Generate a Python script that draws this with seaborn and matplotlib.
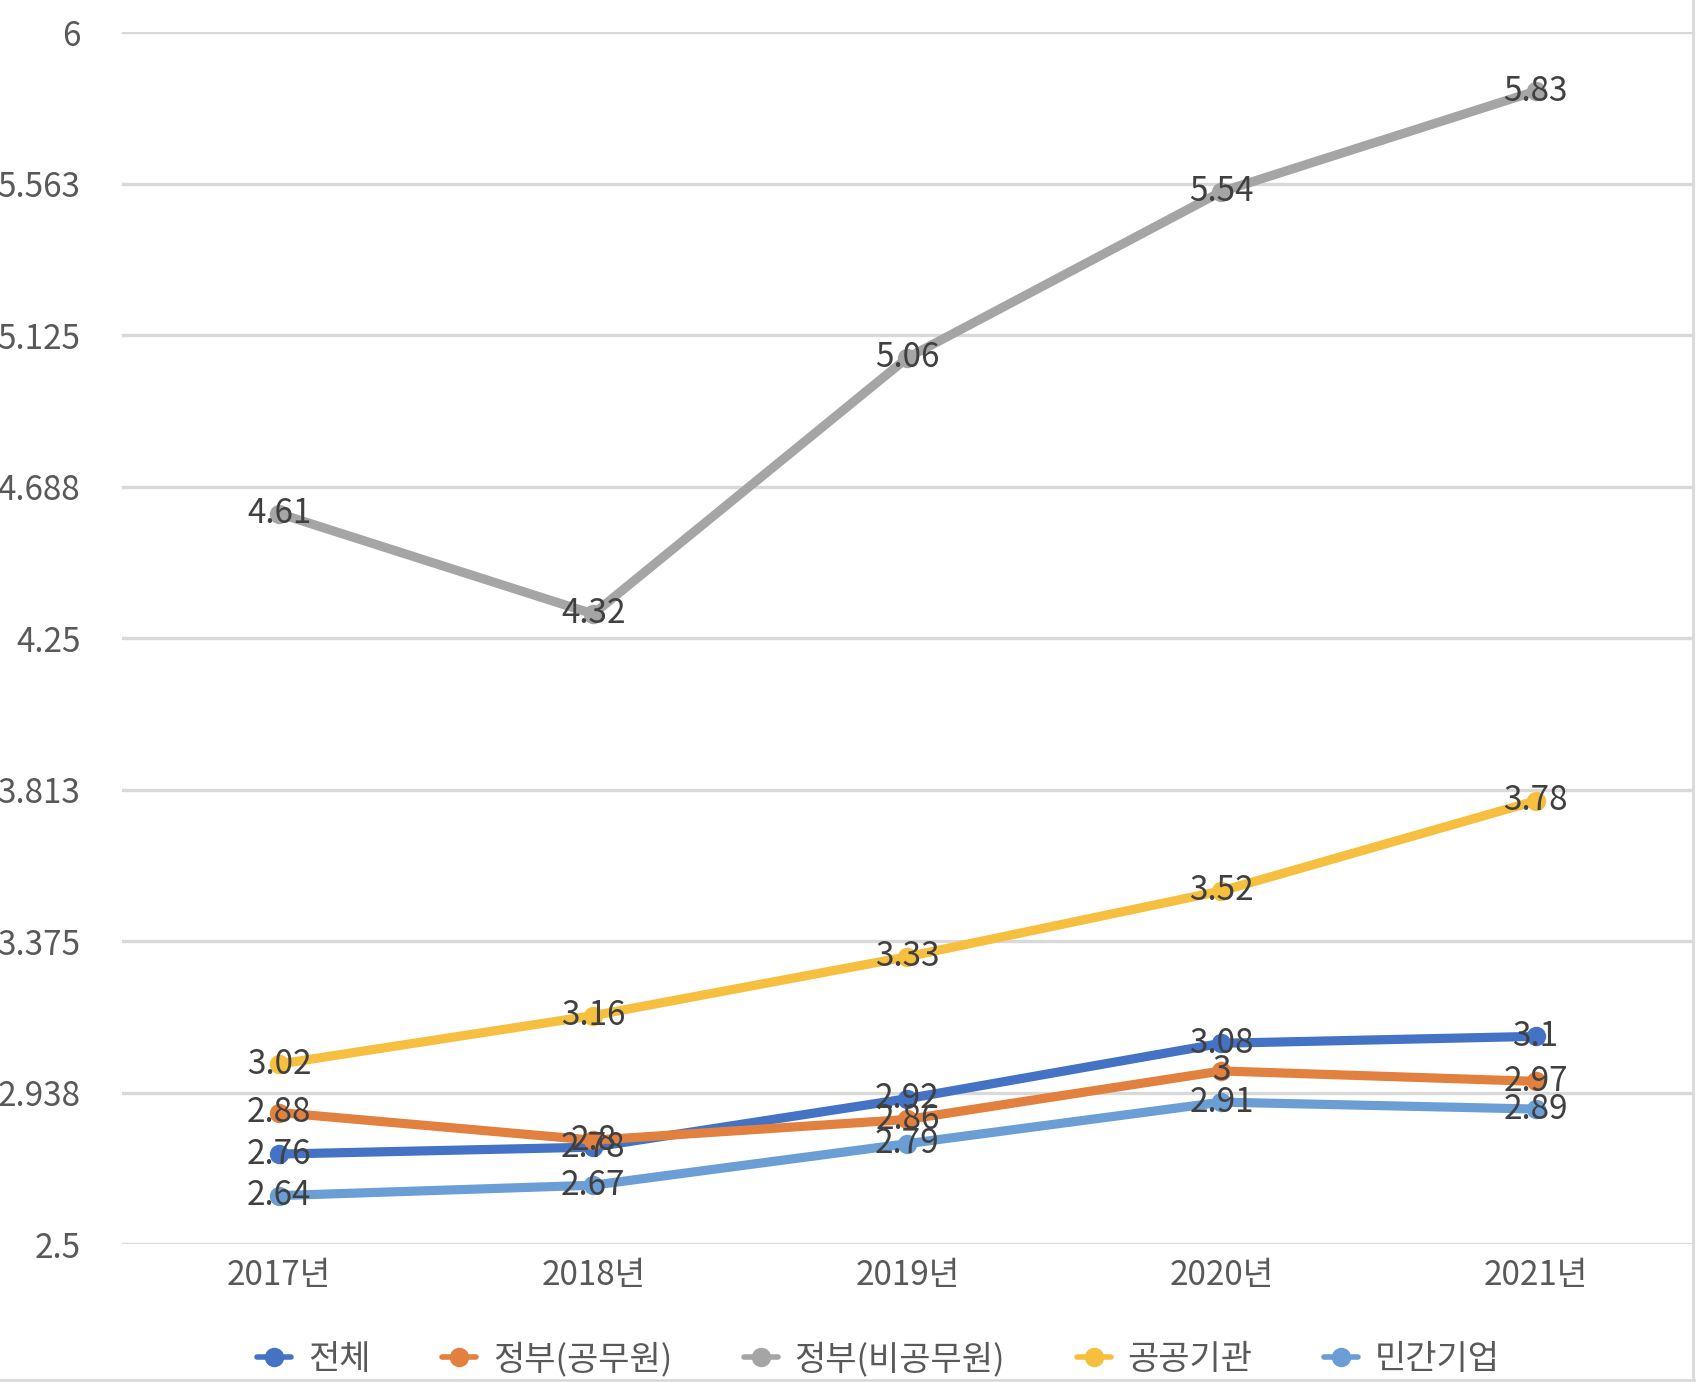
import pandas as pd
import seaborn as sns
import matplotlib.pyplot as plt
from matplotlib.lines import Line2D

years = ["2017년", "2018년", "2019년", "2020년", "2021년"]
series_names = ["전체", "정부(공무원)", "정부(비공무원)", "공공기관", "민간기업"]
total = [2.76, 2.78, 2.92, 3.08, 3.1]
gov_official = [2.88, 2.8, 2.86, 3, 2.97]
gov_non_official = [4.61, 4.32, 5.06, 5.54, 5.83]
public_inst = [3.02, 3.16, 3.33, 3.52, 3.78]
private_corp = [2.64, 2.67, 2.79, 2.91, 2.89]
y_ticks = [2.5, 2.9375, 3.375, 3.8125, 4.25, 4.6875, 5.125, 5.5625, 6]
y_tick_labels = ["2.5", "2.938", "3.375", "3.813", "4.25", "4.688", "5.125", "5.563", "6"]

colors = ["#4472C4", "#E2803F", "#A5A5A5", "#F6BF3F", "#6A9ED4"]
palette = dict(zip(series_names, colors))

all_values = [total, gov_official, gov_non_official, public_inst, private_corp]
rows = []
for name, vals in zip(series_names, all_values):
    for i, (yr, v) in enumerate(zip(years, vals)):
        rows.append({"pos": i, "year": yr, "series": name, "value": v})
df = pd.DataFrame(rows)

sns.set_theme(style="white")
plt.rcParams["font.family"] = ["Noto Sans CJK KR", "DejaVu Sans"]

fig = plt.figure(figsize=(16.96, 13.82), dpi=100)
ax = fig.add_axes([0.072, 0.0998, 0.926, 0.8768])

sns.lineplot(
    data=df, x="pos", y="value", hue="series", hue_order=series_names,
    palette=palette, marker="o", markersize=14, markeredgewidth=0,
    linewidth=6.6, ax=ax, legend=False, zorder=3,
)

# data labels centred on the points
for name, vals in zip(series_names, all_values):
    for i, v in enumerate(vals):
        ax.text(i, v, f"{v:g}", ha="center", va="center", fontsize=24,
                color="#404040", zorder=5)

ax.set_xlim(-0.5, 4.5)
ax.set_ylim(2.5, 6)
ax.set_xticks(range(len(years)))
ax.set_xticklabels(years)
ax.set_yticks(y_ticks)
ax.set_yticklabels(y_tick_labels)
ax.tick_params(axis="both", length=0, labelsize=24, colors="#595959")
ax.tick_params(axis="y", pad=30)
ax.tick_params(axis="x", pad=10)
ax.set_xlabel("")
ax.set_ylabel("")
ax.grid(axis="y", color="#D9D9D9", linewidth=2.4)
ax.set_axisbelow(True)
for sp in ax.spines.values():
    sp.set_visible(False)

handles = [Line2D([0], [0], color=c, marker="o", markersize=14, linewidth=4,
                  markeredgewidth=0) for c in colors]
fig.legend(handles, series_names, loc="center", bbox_to_anchor=(0.518, 0.016),
           ncol=5, frameon=False, fontsize=24.5, handlelength=1.0,
           columnspacing=2.1, handletextpad=0.5, labelcolor="#595959")

# chart border (right and bottom edges visible in the original)
fig.add_artist(Line2D([0.9985, 0.9985], [0, 1], color="#D9D9D9", linewidth=2,
                      transform=fig.transFigure))
fig.add_artist(Line2D([0, 1], [0.0015, 0.0015], color="#D9D9D9", linewidth=2,
                      transform=fig.transFigure))

plt.savefig("out.png", dpi=100)
